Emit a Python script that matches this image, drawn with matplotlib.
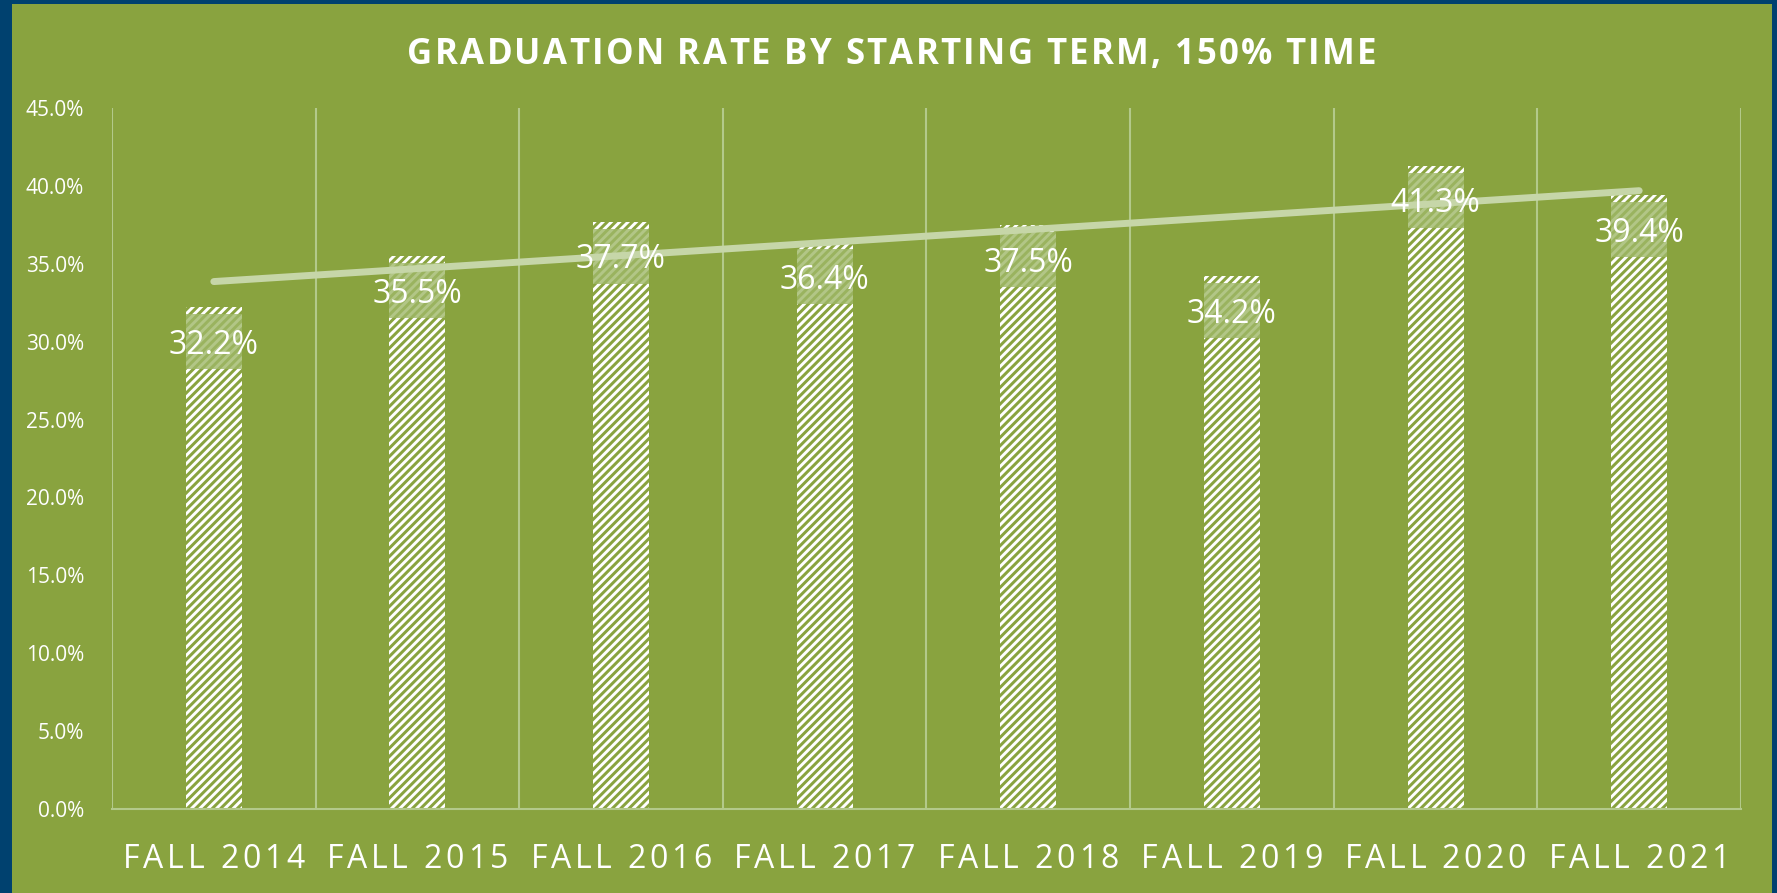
import numpy as np
import matplotlib.pyplot as plt
from matplotlib.patches import Rectangle
from matplotlib.font_manager import FontProperties, findfont
from matplotlib.ft2font import FT2Font
from matplotlib.transforms import IdentityTransform

# chart data
terms = ["FALL 2014", "FALL 2015", "FALL 2016", "FALL 2017",
         "FALL 2018", "FALL 2019", "FALL 2020", "FALL 2021"]
grad_rate = [32.2, 35.5, 37.7, 36.4, 37.5, 34.2, 41.3, 39.4]
yticks = [0, 5, 10, 15, 20, 25, 30, 35, 40, 45]
title = "GRADUATION RATE BY STARTING TERM, 150% TIME"

green = "#89A33F"
navy = "#00416F"
grid_col = "#B3C98A"
trend_col = "#C6D6A8"
DPI = 100
W, H = 1777, 893

plt.rcParams["font.family"] = ["Open Sans", "DejaVu Sans"]
plt.rcParams["hatch.linewidth"] = 2.1


def spaced_text(fig, xc, y, s, size, track, weight="normal"):
    # draw text char by char with extra letter spacing (pixels)
    fp = FontProperties(family="Open Sans", weight=weight, size=size)
    font = FT2Font(findfont(fp))
    font.set_size(size, DPI)
    adv = [font.load_char(ord(c)).linearHoriAdvance / 65536 for c in s]
    total = sum(adv) + track * (len(s) - 1)
    x0 = xc - total / 2
    for c, a in zip(s, adv):
        if c != " ":
            fig.text(x0 + a / 2, y, c, ha="center", va="baseline",
                     fontproperties=fp, color="white",
                     transform=IdentityTransform())
        x0 += a + track


fig = plt.figure(figsize=(W / DPI, H / DPI), dpi=DPI)
fig.patch.set_facecolor(navy)

# green panel inside the navy frame
fig.patches.append(Rectangle((12 / W, 0), (1772 - 12) / W, 1 - 4 / H,
                             transform=fig.transFigure, facecolor=green,
                             edgecolor="none", zorder=-1))

ax = fig.add_axes([112 / W, 1 - 809 / H, (1741 - 112) / W, (809 - 108) / H])
ax.set_facecolor("none")

x = np.arange(len(terms))
bw = 0.275
ax.bar(x, grad_rate, width=bw, color=green, edgecolor="white",
       hatch="////", linewidth=0, zorder=2)

# label band + value labels (inside end)
for xi, v in zip(x, grad_rate):
    ax.add_patch(Rectangle((xi - bw / 2, v - 3.98), bw, 3.53, facecolor="#9FB868",
                           alpha=0.8, edgecolor="none", zorder=3))
    ax.text(xi, v - 3.0, f"{v:.1f}%", ha="center", va="baseline", color="white",
            fontsize=23, zorder=5)

# linear trendline
coef = np.polyfit(x, grad_rate, 1)
ax.plot(x, np.polyval(coef, x), color=trend_col, lw=5,
        solid_capstyle="round", zorder=4)

ax.set_xlim(-0.5, len(terms) - 0.5)
ax.set_ylim(0, 45)
ax.set_yticks(yticks)
ax.set_yticklabels([f"{t:.1f}%" for t in yticks], color="white", fontsize=15)
ax.set_xticks(x)
ax.set_xticklabels([])
ax.tick_params(axis="both", length=0)
ax.tick_params(axis="y", pad=20)

for b in np.arange(len(terms) + 1) - 0.5:
    ax.axvline(b, color=grid_col, lw=1.5, zorder=1)
for s in ["top", "right", "left"]:
    ax.spines[s].set_visible(False)
ax.spines["bottom"].set_color(grid_col)
ax.spines["bottom"].set_linewidth(1.5)

# category labels with letter spacing
for xi, t in zip(x, terms):
    px = ax.transData.transform((xi, 0))[0]
    spaced_text(fig, px, H - 868, t, 23, 3.7)

spaced_text(fig, (12 + 1772) / 2, H - 63.5, title, 25, 2.3, weight="bold")

fig.savefig("out.png", dpi=DPI, facecolor=fig.get_facecolor())
